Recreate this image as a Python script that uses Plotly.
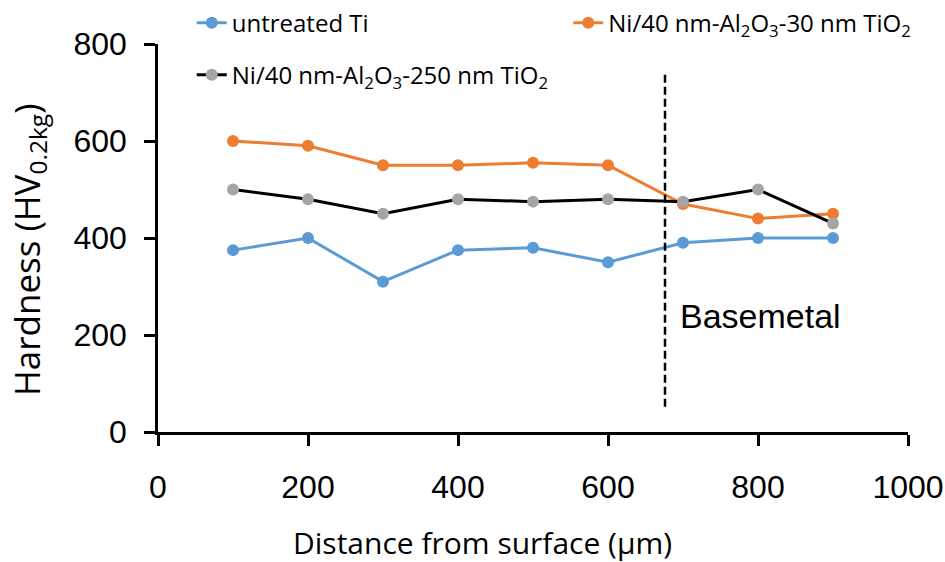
import plotly.graph_objects as go

distance = [100, 200, 300, 400, 500, 600, 700, 800, 900]
untreated_ti = [375, 400, 310, 375, 380, 350, 390, 400, 400]
ni_30_tio2 = [600, 590, 550, 550, 555, 550, 470, 440, 450]
ni_250_tio2 = [500, 480, 450, 480, 475, 480, 475, 500, 430]

boundary_x = 676
boundary_y = [52, 740]
label_text = "Basemetal"
label_pos = (693, 240)

x_ticks = [0, 200, 400, 600, 800, 1000]
y_ticks = [0, 200, 400, 600, 800]
x_title = "Distance from surface (µm)"
y_title = "Hardness (HV<sub>0.2kg</sub>)"

BLUE = "#5B9BD5"
ORANGE = "#ED7D31"
GRAY = "#A5A5A5"
TICK_FONT = "Liberation Sans Narrow, Arial Narrow, Liberation Sans, sans-serif"
TEXT_FONT = "Open Sans, Calibri, sans-serif"

fig = go.Figure()

fig.add_trace(go.Scatter(
    x=distance, y=untreated_ti, mode="lines+markers", name="untreated Ti",
    line=dict(color=BLUE, width=3), marker=dict(color=BLUE, size=12),
    legend="legend"))
fig.add_trace(go.Scatter(
    x=distance, y=ni_30_tio2, mode="lines+markers",
    name="Ni/40 nm-Al<sub>2</sub>O<sub>3</sub>-30 nm TiO<sub>2</sub>",
    line=dict(color=ORANGE, width=3), marker=dict(color=ORANGE, size=12),
    legend="legend2"))
fig.add_trace(go.Scatter(
    x=distance, y=ni_250_tio2, mode="lines+markers",
    name="Ni/40 nm-Al<sub>2</sub>O<sub>3</sub>-250 nm TiO<sub>2</sub>",
    line=dict(color="black", width=3), marker=dict(color=GRAY, size=12),
    legend="legend3"))

fig.add_trace(go.Scatter(
    x=[boundary_x, boundary_x], y=boundary_y, mode="lines",
    line=dict(color="black", width=2.5, dash="8px,4px"),
    showlegend=False, hoverinfo="skip"))

fig.add_annotation(
    x=label_pos[0], y=label_pos[1], text=label_text, showarrow=False,
    xanchor="left", yanchor="middle",
    font=dict(family="Liberation Sans, Arial, sans-serif", size=34, color="black"))

fig.add_annotation(
    xref="paper", yref="paper", x=0.432, y=-0.285, text=x_title,
    showarrow=False, xanchor="center", yanchor="middle",
    font=dict(family=TEXT_FONT, size=30, color="black"))
fig.add_annotation(
    xref="paper", yref="paper", x=-0.1733, y=0.469, text=y_title,
    showarrow=False, xanchor="center", yanchor="middle", textangle=-90,
    font=dict(family=TEXT_FONT, size=35, color="black"))

legend_common = dict(
    bgcolor="rgba(0,0,0,0)", borderwidth=0,
    font=dict(family=TEXT_FONT, size=24, color="black"),
    xanchor="left", yanchor="middle", orientation="h")

fig.update_layout(
    width=945, height=562,
    margin=dict(l=158, r=37, t=44, b=130, autoexpand=False),
    paper_bgcolor="white", plot_bgcolor="white",
    legend=dict(x=0.045, y=1.054, **legend_common),
    legend2=dict(x=0.547, y=1.054, **legend_common),
    legend3=dict(x=0.045, y=0.920, **legend_common),
    xaxis=dict(
        range=[0, 1000], tickvals=x_ticks, ticktext=[str(v) for v in x_ticks],
        showgrid=False, zeroline=False, showline=True, linecolor="black",
        linewidth=2.5, ticks="outside", ticklen=11, tickwidth=2.5,
        tickcolor="black", ticklabelstandoff=14, automargin=False,
        tickfont=dict(family=TICK_FONT, size=32, color="black")),
    yaxis=dict(
        range=[0, 800], tickvals=y_ticks, ticktext=[str(v) for v in y_ticks],
        showgrid=False, zeroline=False, showline=True, linecolor="black",
        linewidth=2.5, ticks="outside", ticklen=11, tickwidth=2.5,
        tickcolor="black", ticklabelstandoff=11, automargin=False,
        tickfont=dict(family=TICK_FONT, size=32, color="black")),
)

fig.write_html("out.html", config={"displayModeBar": False},
               post_script="document.body.style.margin='0';")
